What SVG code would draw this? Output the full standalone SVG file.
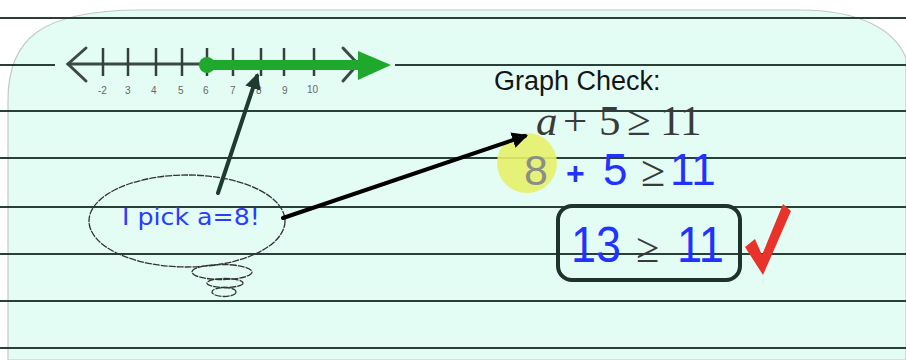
<svg xmlns="http://www.w3.org/2000/svg" width="906" height="360" viewBox="0 0 906 360">
<defs>
<style>
.rule{stroke:#2a4037;stroke-width:2;fill:none}
.axis{stroke:#3d4a44;stroke-width:3;fill:none;stroke-linecap:round}
.tick{stroke:#34403b;stroke-width:2.5}
.lab{font-family:"Liberation Sans",Arial,sans-serif;font-size:10px;fill:#666}
.blue{font-family:"Liberation Sans",Arial,sans-serif;fill:#2233ff}
.serif{font-family:"Liberation Serif","Times New Roman",serif;fill:#3a3a3a}
.bub{fill:none;stroke:#333;stroke-width:1.3;stroke-dasharray:7 1}
</style>
<marker id="ahDark" viewBox="0 0 10 10" refX="8" refY="5" markerWidth="4" markerHeight="4" orient="auto" markerUnits="strokeWidth">
<path d="M0,0 L10,5 L0,10 Z" fill="#1f3a30"/>
</marker>
<marker id="ahBlack" viewBox="0 0 10 10" refX="8" refY="5" markerWidth="4" markerHeight="4" orient="auto" markerUnits="strokeWidth">
<path d="M0,0 L10,5 L0,10 Z" fill="#000"/>
</marker>
</defs>
<rect width="906" height="360" fill="#ffffff"/>
<path id="paper" d="M8,360 V100 C8,40 40,10 140,10 H800 C860,10 895,30 906,58 V360 Z" fill="#e3fdf5" stroke="#c4c8c6" stroke-width="1.2"/>
<g id="rules">
<line class="rule" x1="0" y1="18" x2="906" y2="18"/>
<line class="rule" x1="0" y1="65" x2="55" y2="65"/>
<line class="rule" x1="395" y1="65" x2="906" y2="65"/>
<line class="rule" x1="0" y1="111" x2="906" y2="111"/>
<line class="rule" x1="0" y1="158" x2="906" y2="158"/>
<line class="rule" x1="0" y1="207" x2="906" y2="207"/>
<line class="rule" x1="0" y1="254" x2="906" y2="254"/>
<line class="rule" x1="0" y1="301" x2="906" y2="301"/>
<line class="rule" x1="0" y1="348" x2="906" y2="348"/>
</g>
<g id="numberline">
<line class="axis" x1="68" y1="64" x2="356" y2="64"/>
<polyline class="axis" points="86,48 68,64 86,81"/>
<polyline class="axis" points="343,48 358,64 343,81"/>
<line class="tick" x1="103" y1="48" x2="103" y2="76"/>
<line class="tick" x1="128" y1="48" x2="128" y2="76"/>
<line class="tick" x1="156" y1="48" x2="156" y2="76"/>
<line class="tick" x1="182" y1="48" x2="182" y2="76"/>
<line class="tick" x1="207" y1="48" x2="207" y2="76"/>
<line class="tick" x1="233" y1="48" x2="233" y2="76"/>
<line class="tick" x1="261" y1="48" x2="261" y2="76"/>
<line class="tick" x1="284" y1="48" x2="284" y2="76"/>
<line class="tick" x1="314" y1="48" x2="314" y2="76"/>
<text class="lab" x="98" y="94">-2</text>
<text class="lab" x="125" y="94">3</text>
<text class="lab" x="151" y="94">4</text>
<text class="lab" x="178" y="94">5</text>
<text class="lab" x="203" y="94">6</text>
<text class="lab" x="230" y="94">7</text>
<text class="lab" x="256" y="94">8</text>
<text class="lab" x="282" y="94">9</text>
<text class="lab" x="307" y="93">10</text>
</g>
<g id="solution">
<line x1="207" y1="65" x2="362" y2="65" stroke="#1ea82c" stroke-width="10"/>
<circle cx="207" cy="65" r="8" fill="#1ea82c"/>
<path d="M358,51 L391,65 L358,80 Z" fill="#1ea82c"/>
</g>
<g id="bubble">
<ellipse class="bub" cx="187" cy="221" rx="98" ry="46"/>
<ellipse class="bub" cx="222" cy="272" rx="30" ry="7.5"/>
<ellipse class="bub" cx="225" cy="283" rx="18" ry="4.5"/>
<ellipse class="bub" cx="224" cy="292" rx="12" ry="4.5"/>
<text x="122" y="225" font-family="'DejaVu Sans',sans-serif" font-size="23" fill="#2a3cff" textLength="138" lengthAdjust="spacingAndGlyphs">I pick a=8!</text>
</g>
<g id="check-title">
<text x="494" y="90" font-family="'Liberation Sans',Arial,sans-serif" font-size="27" fill="#151515">Graph Check:</text>
</g>
<g id="inequality">
<text class="serif" y="135" font-size="43"><tspan x="536" font-style="italic">a</tspan><tspan x="563">+</tspan><tspan x="599">5</tspan><tspan x="627">≥</tspan><tspan x="660">11</tspan></text>
</g>
<g id="substitution">
<circle cx="527" cy="163" r="30" fill="#e6f06a" opacity="0.9"/>
<text x="524" y="185" font-family="'Liberation Sans',Arial,sans-serif" font-size="43" fill="#8a8f86">8</text>
<text class="blue" x="566" y="184" font-size="32" font-weight="bold">+</text>
<text class="blue" x="603" y="185" font-size="44">5</text>
<text class="serif" x="641" y="186" font-size="44" fill="#4a4a4a">≥</text>
<text class="blue" x="670" y="185" font-size="44">11</text>
</g>
<g id="result">
<rect x="558" y="206" width="182" height="74" rx="14" fill="none" stroke="#1e3329" stroke-width="4"/>
<text class="blue" x="571" y="262" font-size="50" textLength="50" lengthAdjust="spacingAndGlyphs">13</text>
<text class="serif" x="636" y="262" font-size="42" fill="#4a4a4a">≥</text>
<text class="blue" x="677" y="262" font-size="50" textLength="47" lengthAdjust="spacingAndGlyphs">11</text>
<path d="M745,247 L755,239 L762,255 L783,204 L791,211 L763,275 Z" fill="#e8322a"/>
</g>
<g id="connectors">
<line x1="218" y1="193" x2="257" y2="76" stroke="#1f3a30" stroke-width="4" stroke-linecap="round" marker-end="url(#ahDark)"/>
<line x1="283" y1="218" x2="525" y2="136" stroke="#000" stroke-width="4" stroke-linecap="round" marker-end="url(#ahBlack)"/>
</g>
</svg>
